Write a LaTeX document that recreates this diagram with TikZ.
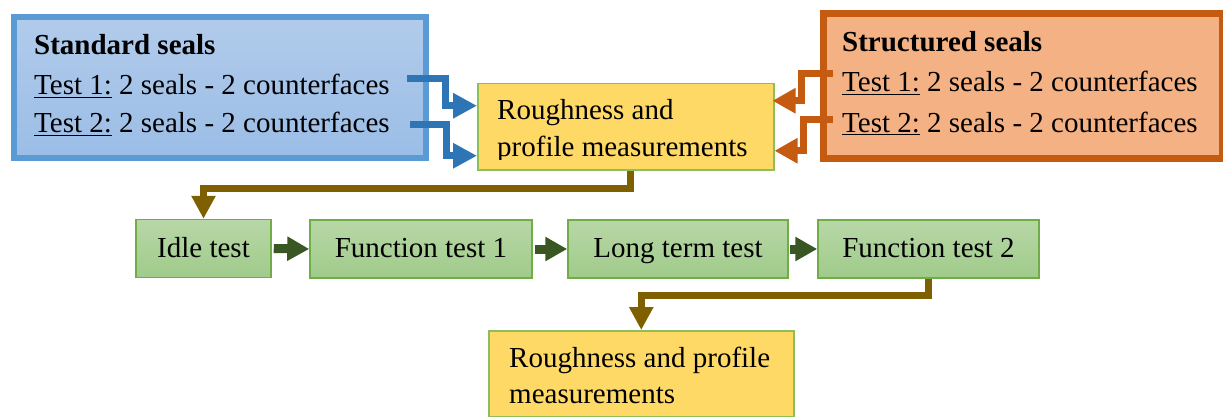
\documentclass[tikz,border=0pt]{standalone}
\usepackage{fontspec}
\setmainfont{Liberation Serif}
\usetikzlibrary{arrows.meta,calc}
\definecolor{bluebd}{RGB}{91,155,213}
\definecolor{bluetop}{RGB}{177,203,235}
\definecolor{bluebot}{RGB}{155,189,230}
\definecolor{bluearr}{RGB}{46,117,182}
\definecolor{orbd}{RGB}{197,90,17}
\definecolor{orfill}{RGB}{244,177,131}
\definecolor{yelfill}{RGB}{255,217,102}
\definecolor{yelbd}{RGB}{140,190,90}
\definecolor{grtop}{RGB}{184,215,167}
\definecolor{grbot}{RGB}{160,203,138}
\definecolor{grbd}{RGB}{112,173,71}
\definecolor{grarr}{RGB}{56,87,35}
\definecolor{brarr}{RGB}{127,96,0}
\begin{document}
\begin{tikzpicture}[x=1pt,y=-1pt,
  every node/.style={font=\fontsize{29}{38}\selectfont},
  txt/.style={anchor=base west,inner sep=0pt},
  stdbox/.style={draw=bluebd,line width=6pt,top color=bluetop,bottom color=bluebot,inner sep=0pt,anchor=north west},
  strbox/.style={draw=orbd,fill=orfill,line width=7pt,inner sep=0pt,anchor=north west},
  yelbox/.style={draw=yelbd,fill=yelfill,line width=1.5pt,inner sep=0pt,anchor=north west},
  greenbox/.style={draw=grbd,top color=grtop,bottom color=grbot,line width=1.5pt,inner sep=0pt,text height=20pt,text depth=3pt},
  barrow/.style={draw=bluearr,line width=7pt,line join=miter,-{Triangle[length=24pt,width=24pt]}},
  oarrow/.style={draw=orbd,line width=7pt,line join=miter,-{Triangle[length=23pt,width=24pt]}},
  brownarrow/.style={draw=brarr,line width=7pt,line join=miter,-{Triangle[length=23pt,width=23pt]}},
  garrow/.style={draw=grarr,line width=9pt,-{Triangle[length=22pt,width=23pt]}}
]
\useasboundingbox (0,0) rectangle (1223,417);
% boxes
\node[stdbox,minimum width=412pt,minimum height=141pt] (std) at (11,14) {};
\node[strbox,minimum width=399pt,minimum height=144pt] (str) at (819.5,10.5) {};
\node[yelbox,minimum width=296pt,minimum height=86pt] (rough1) at (477,83) {};
\node[yelbox,minimum width=305pt,minimum height=86pt] (rough2) at (488,330) {};
\node[greenbox,minimum width=135pt,minimum height=58pt] (idle) at (203.5,248.5) {Idle test};
\node[greenbox,minimum width=222pt,minimum height=58pt] (ft1) at (421,249) {Function test 1};
\node[greenbox,minimum width=220pt,minimum height=58pt] (ltt) at (678,249) {Long term test};
\node[greenbox,minimum width=221pt,minimum height=58pt] (ft2) at (928.5,249) {Function test 2};
% texts
\node[txt] (stdtitle) at (34,55) {\textbf{Standard seals}};
\node[txt] (stdt1) at (34,95) {\underline{Test 1:} 2 seals - 2 counterfaces};
\node[txt] (stdt2) at (34,133) {\underline{Test 2:} 2 seals - 2 counterfaces};
\node[txt] (strtitle) at (842,52) {\textbf{Structured seals}};
\node[txt] (strt1) at (842,92) {\underline{Test 1:} 2 seals - 2 counterfaces};
\node[txt] (strt2) at (842,132) {\underline{Test 2:} 2 seals - 2 counterfaces};
\begin{scope}
\clip (477,83) rectangle (773,159);
\node[txt] (r1a) at (497,120) {Roughness and};
\node[txt] (r1b) at (497,157) {profile measurements};
\end{scope}
\node[txt] (r2a) at (509,367) {Roughness and profile};
\node[txt] (r2b) at (509,403) {measurements};
% blue connectors
\coordinate (b1) at (407,78.5);
\coordinate (b2) at (410,125);
\draw[barrow] (b1) -- ++(38,0) |- ($(rough1.west)+(0,-21)$);
\draw[barrow] (b2) -- ++(36,0) |- ($(rough1.west)+(0,29)$);
% orange connectors
\coordinate (o1) at (833,73.5);
\coordinate (o2) at (833,120);
\draw[oarrow] (o1) -- ++(-31.5,0) |- ($(rough1.east)+(-2,-26)$);
\draw[oarrow] (o2) -- ++(-29.5,0) |- ($(rough1.east)+(0,24)$);
% brown connectors
\draw[brownarrow] ([xshift=5pt]rough1.south) -- ++(0,18) -| (idle.north);
\draw[brownarrow] (ft2.south) -- ++(0,17) -| (rough2.north);
% green connectors
\draw[garrow,shorten <=2pt] (idle.east) -- (ft1.west);
\draw[garrow,shorten <=2pt] (ft1.east) -- (ltt.west);
\draw[garrow,shorten <=1pt] (ltt.east) -- (ft2.west);
\end{tikzpicture}
\end{document}
